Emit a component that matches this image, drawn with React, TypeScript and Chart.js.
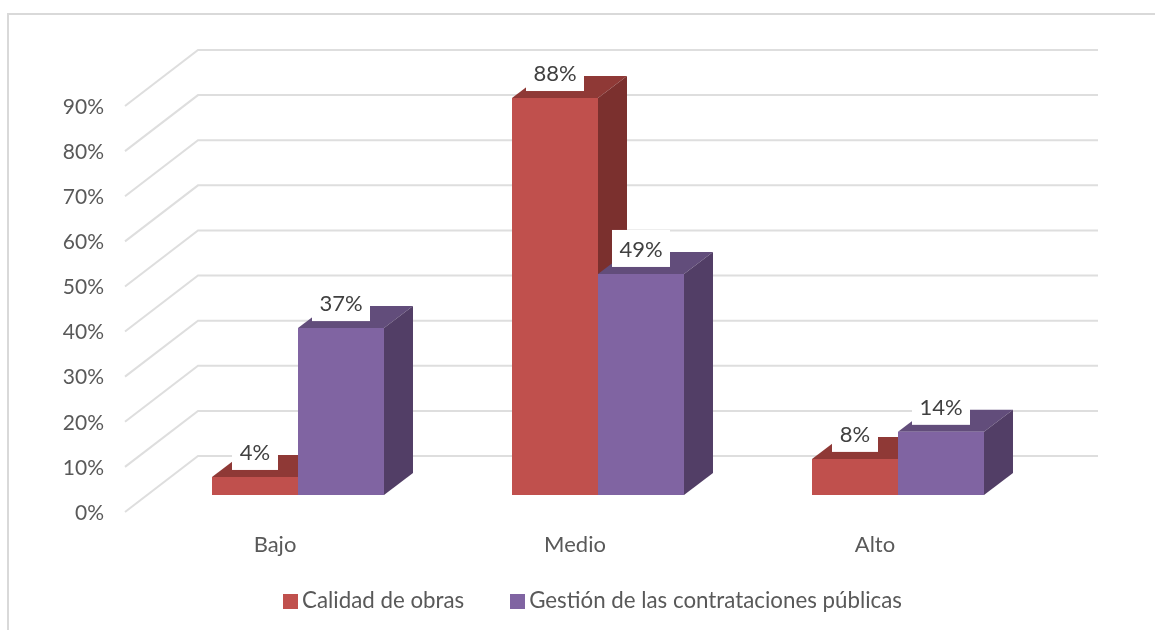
import React, { useEffect, useRef } from "react";
import { Chart, registerables } from "chart.js";

Chart.register(...registerables);

const categories = ["Bajo", "Medio", "Alto"];
const calidadObras = [4, 88, 8];
const gestionContrataciones = [37, 49, 14];
const seriesNames = ["Calidad de obras", "Gestión de las contrataciones públicas"];

const FONT = "Lato";
const TEXT = "#595959";
const GRID = "#DEDEDE";
const faces = [
  { front: "#C0504D", top: "#8F3936", side: "#7B302E" },
  { front: "#8064A2", top: "#624D7B", side: "#523E66" },
];
const DEPTH_X = 29;
const DEPTH_Y = 22;

function swatch(color: string) {
  const c = document.createElement("canvas");
  c.width = 15;
  c.height = 15;
  const g = c.getContext("2d")!;
  g.fillStyle = color;
  g.fillRect(0, 0, 15, 15);
  return c;
}

const wallPlugin = {
  id: "wall3d",
  afterLayout(chart: any) {
    const lg = chart.legend;
    lg.left = 37.15;
    lg.right = 1155;
    lg.top = 536.7;
    lg.bottom = 630;
  },
  beforeDraw(chart: any) {
    const { ctx, width, height } = chart;
    ctx.save();
    ctx.fillStyle = "#fff";
    ctx.fillRect(0, 0, width, height);
    ctx.strokeStyle = "#D9D9D9";
    ctx.lineWidth = 2;
    ctx.beginPath();
    ctx.moveTo(8, height);
    ctx.lineTo(8, 14);
    ctx.lineTo(width, 14);
    ctx.stroke();
    ctx.restore();
  },
  beforeDatasetsDraw(chart: any) {
    const { ctx, chartArea, scales } = chart;
    const left = chartArea.left;
    const right = chartArea.right;
    ctx.save();
    ctx.strokeStyle = GRID;
    ctx.lineWidth = 2;
    scales.y.ticks.forEach((t: any) => {
      const p = scales.y.getPixelForValue(t.value);
      ctx.beginPath();
      ctx.moveTo(left - 23, p + 17);
      ctx.lineTo(left + 50, p - 39);
      ctx.lineTo(right + 50, p - 39);
      ctx.stroke();
    });
    chart.data.datasets.forEach((_: any, di: number) => {
      const f = faces[di];
      chart.getDatasetMeta(di).data.forEach((bar: any) => {
        const l = bar.x - bar.width / 2;
        const r = bar.x + bar.width / 2;
        const t = bar.y;
        const b = bar.base;
        ctx.fillStyle = f.top;
        ctx.beginPath();
        ctx.moveTo(l, t);
        ctx.lineTo(l + DEPTH_X, t - DEPTH_Y);
        ctx.lineTo(r + DEPTH_X, t - DEPTH_Y);
        ctx.lineTo(r, t);
        ctx.closePath();
        ctx.fill();
        ctx.fillStyle = f.side;
        ctx.beginPath();
        ctx.moveTo(r, t);
        ctx.lineTo(r + DEPTH_X, t - DEPTH_Y);
        ctx.lineTo(r + DEPTH_X, b - DEPTH_Y);
        ctx.lineTo(r, b);
        ctx.closePath();
        ctx.fill();
      });
    });
    ctx.restore();
  },
  afterDatasetsDraw(chart: any) {
    const { ctx } = chart;
    ctx.save();
    ctx.font = `22px ${FONT}`;
    ctx.textAlign = "center";
    ctx.textBaseline = "middle";
    chart.data.datasets.forEach((ds: any, di: number) => {
      chart.getDatasetMeta(di).data.forEach((bar: any, i: number) => {
        const label = `${ds.data[i]}%`;
        const w = label.length > 2 ? 58 : 46;
        ctx.fillStyle = "#fff";
        ctx.fillRect(bar.x - w / 2, bar.y - 44, w, 37);
        ctx.fillStyle = "#404040";
        ctx.fillText(label, bar.x, bar.y - 24);
      });
    });
    ctx.restore();
  },
};

export default function App() {
  const ref = useRef<HTMLCanvasElement>(null);
  useEffect(() => {
    const swatches = faces.map((f) => swatch(f.front));
    const chart = new Chart(ref.current!, {
      type: "bar",
      data: {
        labels: categories,
        datasets: [
          { label: seriesNames[0], data: calidadObras, backgroundColor: faces[0].front },
          { label: seriesNames[1], data: gestionContrataciones, backgroundColor: faces[1].front },
        ],
      },
      plugins: [wallPlugin],
      options: {
        responsive: false,
        animation: false,
        layout: { padding: { top: 89, left: 0, right: 107, bottom: 0 } },
        datasets: { bar: { categoryPercentage: 0.5733, barPercentage: 1 } },
        scales: {
          x: {
            grid: { display: false, drawTicks: false },
            border: { display: false },
            afterFit: (s: any) => { s.height = 75; },
            ticks: {
              color: TEXT,
              font: { family: FONT, size: 22 },
              padding: 37,
              labelOffset: -23,
              maxRotation: 0,
            },
          },
          y: {
            min: 0,
            max: 90,
            grid: { display: false, drawTicks: false },
            border: { display: false },
            afterFit: (s: any) => { s.width = 148; },
            ticks: {
              stepSize: 10,
              color: TEXT,
              font: { family: FONT, size: 21 },
              padding: 44,
              labelOffset: 18,
              callback: (v: any) => `${v}%`,
            },
          },
        },
        plugins: {
          tooltip: { enabled: false },
          legend: {
            position: "bottom",
            maxHeight: 60,
            labels: {
              usePointStyle: true,
              pointStyleWidth: 0.7,
              boxHeight: 15,
              padding: 53.15,
              color: TEXT,
              font: { family: FONT, size: 22.3 },
              generateLabels: (c: any) =>
                Chart.defaults.plugins.legend.labels
                  .generateLabels(c)
                  .map((l: any, i: number) => ({ ...l, pointStyle: swatches[i] })),
            },
          },
        },
      } as any,
    });
    return () => chart.destroy();
  }, []);
  return (
    <canvas
      ref={ref}
      width={1155}
      height={630}
      style={{ position: "fixed", left: 0, top: 0, display: "block" }}
    />
  );
}
